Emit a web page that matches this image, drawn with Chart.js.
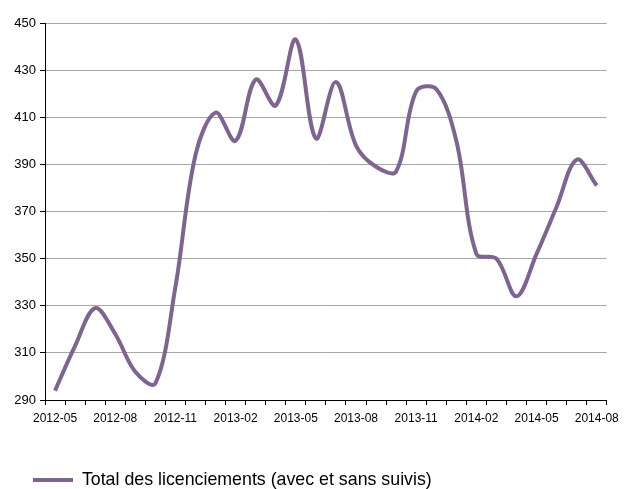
<!DOCTYPE html>
<html lang="fr">
<head>
    <meta charset="UTF-8">
    <title>Total des licenciements</title>
    <script src="https://cdn.jsdelivr.net/npm/chart.js"></script>
    <style>
        html, body { margin: 0; padding: 0; background: #fff; }
        .wrap { width: 625px; height: 489px; }
    </style>
</head>
<body>
    <div class="wrap">
        <canvas id="chart" width="625" height="489"></canvas>
    </div>

    <script>
        // mois, de 2012-05 à 2014-08
        const months = [
            '2012-05', '2012-06', '2012-07', '2012-08', '2012-09', '2012-10', '2012-11',
            '2012-12', '2013-01', '2013-02', '2013-03', '2013-04', '2013-05', '2013-06',
            '2013-07', '2013-08', '2013-09', '2013-10', '2013-11', '2013-12', '2014-01',
            '2014-02', '2014-03', '2014-04', '2014-05', '2014-06', '2014-07', '2014-08'
        ];
        const totalLicenciements = [
            294, 313, 329, 318, 302, 297, 338,
            394, 412, 400, 426, 415, 443, 401,
            425, 398, 389, 387, 421, 422, 400,
            352, 350, 334, 352, 372, 392, 381
        ];
        const seriesLabel = 'Total des licenciements (avec et sans suivis)';
        const yTicks = { min: 290, max: 450, step: 20 };

        const purple = '#7f6491';
        const font = 'Arial, "Liberation Sans", sans-serif';

        new Chart(document.getElementById('chart'), {
            type: 'line',
            data: {
                labels: months,
                datasets: [{
                    label: seriesLabel,
                    data: totalLicenciements,
                    borderColor: purple,
                    backgroundColor: purple,
                    borderWidth: 4,
                    tension: 0.35,
                    pointRadius: 0,
                    fill: false
                }]
            },
            options: {
                responsive: false,
                animation: false,
                layout: { padding: { top: 23, right: 12, left: 0, bottom: 0 } },
                plugins: {
                    tooltip: { enabled: false },
                    legend: {
                        position: 'bottom',
                        align: 'start',
                        maxHeight: 50.9,
                        labels: {
                            color: '#000',
                            font: { family: font, size: 17.8 },
                            boxWidth: 40,
                            boxHeight: 4,
                            padding: 33,
                            generateLabels: (chart) => chart.data.datasets.map((ds, i) => ({
                                text: ds.label,
                                fillStyle: ds.borderColor,
                                strokeStyle: ds.borderColor,
                                lineWidth: 0,
                                datasetIndex: i
                            }))
                        }
                    }
                },
                scales: {
                    x: {
                        offset: true,
                        afterFit: (s) => { s.height = 38.1; },
                        grid: {
                            offset: true,
                            drawOnChartArea: false,
                            drawTicks: true,
                            tickLength: 5,
                            tickColor: '#000'
                        },
                        border: { color: '#000', width: 1 },
                        ticks: {
                            autoSkip: false,
                            maxRotation: 0,
                            color: '#000',
                            padding: 6,
                            font: { family: font, size: 12 },
                            callback: (v, i) => (i % 3 === 0 ? months[i] : '')
                        }
                    },
                    y: {
                        min: yTicks.min,
                        max: yTicks.max,
                        afterFit: (s) => { s.width = 45; },
                        grid: {
                            color: '#a6a6a6',
                            tickColor: '#000',
                            tickLength: 5
                        },
                        border: { color: '#000', width: 1 },
                        ticks: {
                            stepSize: yTicks.step,
                            color: '#000',
                            padding: 4,
                            font: { family: font, size: 13 }
                        }
                    }
                }
            }
        });
    </script>
</body>
</html>
